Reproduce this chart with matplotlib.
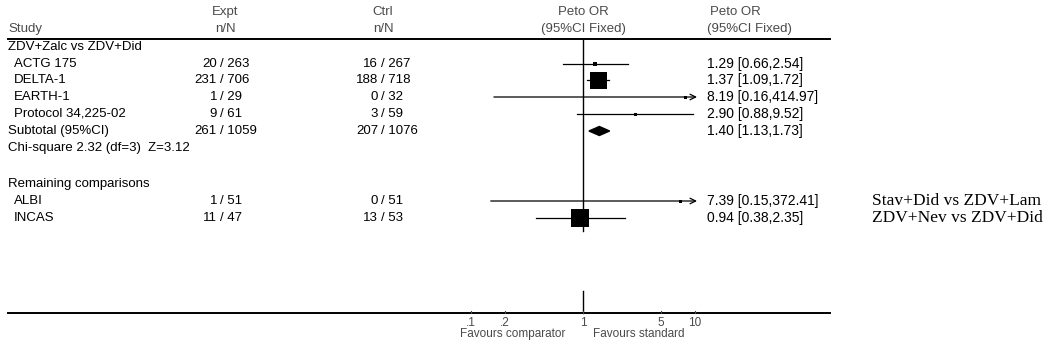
import matplotlib
matplotlib.use("Agg")
import matplotlib.pyplot as plt
from matplotlib.patches import Polygon

# ---------------- data ----------------
group1_title = "ZDV+Zalc vs ZDV+Did"
group1_studies = ["ACTG 175", "DELTA-1", "EARTH-1", "Protocol 34,225-02"]
group1_expt_n = [20, 231, 1, 9]
group1_expt_N = [263, 706, 29, 61]
group1_ctrl_n = [16, 188, 0, 3]
group1_ctrl_N = [267, 718, 32, 59]
group1_or = [1.29, 1.37, 8.19, 2.90]
group1_lo = [0.66, 1.09, 0.16, 0.88]
group1_hi = [2.54, 1.72, 414.97, 9.52]

subtotal_label = "Subtotal (95%CI)"
subtotal_expt = (261, 1059)
subtotal_ctrl = (207, 1076)
subtotal_or = 1.40
subtotal_lo = 1.13
subtotal_hi = 1.73
het_text = "Chi-square 2.32 (df=3)  Z=3.12"

group2_title = "Remaining comparisons"
group2_studies = ["ALBI", "INCAS"]
group2_expt_n = [1, 11]
group2_expt_N = [51, 47]
group2_ctrl_n = [0, 13]
group2_ctrl_N = [51, 53]
group2_or = [7.39, 0.94]
group2_lo = [0.15, 0.38]
group2_hi = [372.41, 2.35]
group2_notes = ["Stav+Did vs ZDV+Lam", "ZDV+Nev vs ZDV+Did"]

tick_values = [0.1, 0.2, 1, 5, 10]
tick_labels = [".1", ".2", "1", "5", "10"]
favour_left = "Favours comparator"
favour_right = "Favours standard"

# ---------------- style / layout ----------------
W, H = 1048, 350
FONT = "Liberation Sans"
FS = 9.5
FS_RES = 10
FS_AXIS = 8.5
GREY = "#4a4a4a"
group1_marker_px = [5, 17, 3, 3]
group2_marker_px = [3, 18]

y_hdr1, y_hdr2, y_rule = 12, 29, 39
y_g1 = 47
y_g1_rows = [64, 80, 97, 114]
y_sub, y_het = 131, 148
y_g2 = 184
y_g2_rows = [201, 218]
y_bottom = 313
y_ticklab, y_fav = 323, 334

x_study, x_indent = 8, 14
x_expt, x_ctrl = 225, 383
x_res = 707
x_note = 872

# forest axis: 1 at pixel 583, 112 px per decade
x_one, px_dec = 583, 112
fx0, fx1 = 380, 790
xmin = 10 ** ((fx0 - x_one) / px_dec)
xmax = 10 ** ((fx1 - x_one) / px_dec)
clip_hi = 10 ** ((697 - x_one) / px_dec)

fig = plt.figure(figsize=(W / 100, H / 100), dpi=100)
ax = fig.add_axes([0, 0, 1, 1])
ax.set_xlim(0, W)
ax.set_ylim(H, 0)
ax.axis("off")

fax = fig.add_axes([fx0 / W, 0, (fx1 - fx0) / W, 1])
fax.set_xscale("log")
fax.set_xlim(xmin, xmax)
fax.set_ylim(H, 0)
fax.axis("off")
fax.patch.set_alpha(0)


def t(x, y, s, ha="left", color="black", size=FS, family=FONT, axes=ax):
    axes.text(x, y, s, ha=ha, va="center", color=color, fontsize=size,
              family=family)


# headers
t(x_study, y_hdr2, "Study", color=GREY)
t(x_expt, y_hdr1, "Expt", ha="center", color=GREY)
t(x_expt, y_hdr2, "n/N", ha="center", color=GREY)
t(x_ctrl, y_hdr1, "Ctrl", ha="center", color=GREY)
t(x_ctrl, y_hdr2, "n/N", ha="center", color=GREY)
t(1, y_hdr1, "Peto OR", ha="center", color=GREY, axes=fax)
t(1, y_hdr2, "(95%CI Fixed)", ha="center", color=GREY, axes=fax)
t(x_res + 3, y_hdr1, "Peto OR", color=GREY)
t(x_res, y_hdr2, "(95%CI Fixed)", color=GREY)
ax.plot([x_study, 830], [y_rule, y_rule], color="black", lw=1.4)


def nN(x, y, n, N):
    t(x - 8, y, f"{n}", ha="right")
    t(x - 5, y, f"/ {N}", ha="left")


def ci_text(o, lo, hi):
    return f"{o:.2f} [{lo:.2f},{hi:.2f}]"


def study_row(y, name, en, eN, cn, cN, o, lo, hi, mpx):
    t(x_indent, y, name)
    nN(x_expt, y, en, eN)
    nN(x_ctrl + 3, y, cn, cN)
    t(x_res, y, ci_text(o, lo, hi), size=FS_RES)
    if hi > clip_hi:
        fax.annotate("", xy=(clip_hi, y), xytext=(lo, y),
                     arrowprops=dict(arrowstyle="->", lw=0.9, color="black",
                                     shrinkA=0, shrinkB=0, mutation_scale=10))
    else:
        fax.plot([lo, hi], [y, y], color="black", lw=0.9)
    fax.plot([o], [y], marker="s", color="black", ms=mpx * 0.72, mew=0)


# group 1
t(x_study, y_g1, group1_title)
for i, name in enumerate(group1_studies):
    study_row(y_g1_rows[i], name, group1_expt_n[i], group1_expt_N[i],
              group1_ctrl_n[i], group1_ctrl_N[i], group1_or[i],
              group1_lo[i], group1_hi[i], group1_marker_px[i])

# subtotal
t(x_study, y_sub, subtotal_label)
nN(x_expt, y_sub, *subtotal_expt)
nN(x_ctrl + 3, y_sub, *subtotal_ctrl)
t(x_res, y_sub, ci_text(subtotal_or, subtotal_lo, subtotal_hi), size=FS_RES)
fax.add_patch(Polygon([(subtotal_lo, y_sub), (subtotal_or, y_sub - 4.5),
                       (subtotal_hi, y_sub), (subtotal_or, y_sub + 4.5)],
                      closed=True, color="black"))
t(x_study, y_het, het_text)

# group 2
t(x_study, y_g2, group2_title)
for i, name in enumerate(group2_studies):
    study_row(y_g2_rows[i], name, group2_expt_n[i], group2_expt_N[i],
              group2_ctrl_n[i], group2_ctrl_N[i], group2_or[i],
              group2_lo[i], group2_hi[i], group2_marker_px[i])
    t(x_note, y_g2_rows[i], group2_notes[i], family="Liberation Serif", size=12.5)

# null line
fax.plot([1, 1], [y_rule, y_g2_rows[-1] + 13], color="black", lw=1)
fax.plot([1, 1], [291, y_bottom], color="black", lw=1)

# bottom axis line
ax.plot([x_study, 830], [y_bottom, y_bottom], color="black", lw=1.4)
for v, lab in zip(tick_values, tick_labels):
    fax.plot([v, v], [y_bottom - 2, y_bottom], color=GREY, lw=0.8)
    t(v, y_ticklab, lab, ha="center", color=GREY, size=FS_AXIS, axes=fax)
t(0.7, y_fav, favour_left, ha="right", color=GREY, size=FS_AXIS, axes=fax)
t(1.23, y_fav, favour_right, ha="left", color=GREY, size=FS_AXIS, axes=fax)

fig.savefig("out.png", dpi=100)
